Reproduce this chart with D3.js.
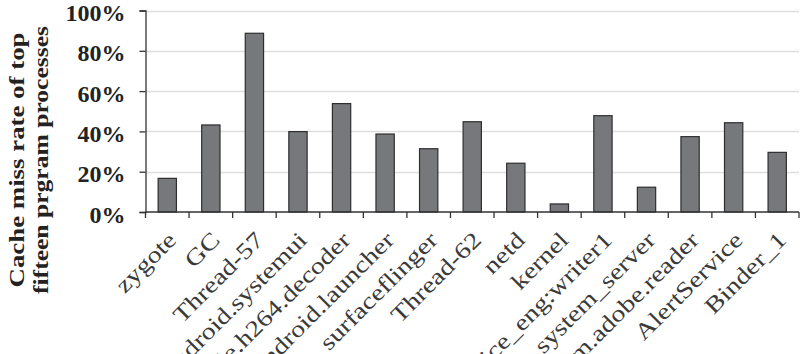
<!DOCTYPE html>
<html>
<head>
<meta charset="utf-8">
<script src="https://cdn.jsdelivr.net/npm/d3@7"></script>
<style>
  body { margin: 0; background: #fff; }
  svg { display: block; }
</style>
</head>
<body>
<svg width="808" height="354"></svg>
<script>
// process names along the x axis
const processes = ["zygote", "GC", "Thread-57", "ndroid.systemui", "le.h264.decoder",
    "ndroid.launcher", "surfaceflinger", "Thread-62", "netd", "kernel",
    "ice_eng:writer1", "system_server", "om.adobe.reader", "AlertService", "Binder_1"];
// cache miss rate (fraction)
const missRate = [0.167, 0.432, 0.887, 0.399, 0.538, 0.387, 0.314, 0.448, 0.242, 0.04,
    0.478, 0.123, 0.374, 0.443, 0.296];
const yTicks = [0, 0.2, 0.4, 0.6, 0.8, 1.0];
const titleLines = ["Cache miss rate of top", "fifteen prgram processes"];

const margin = {top: 10.5, left: 145.5, right: 9, bottom: 142};
const W = 808, H = 354;

const svg = d3.select("svg");

const x = d3.scaleBand()
    .domain(processes)
    .range([margin.left, W - margin.right])
    .paddingInner(0.58)
    .paddingOuter(0.29);

const y = d3.scaleLinear()
    .domain([0, 1])
    .range([H - margin.bottom, margin.top]);

// grid lines
svg.append("g")
    .selectAll("line")
    .data(yTicks.slice(1))
    .enter()
    .append("line")
    .attr("x1", margin.left)
    .attr("x2", W - margin.right)
    .attr("y1", d => Math.round(y(d)) + 0.5)
    .attr("y2", d => Math.round(y(d)) + 0.5)
    .attr("stroke", "#dedede")
    .attr("stroke-width", 1.5);

// bars
svg.append("g")
    .selectAll("rect")
    .data(processes)
    .enter()
    .append("rect")
    .attr("x", d => x(d))
    .attr("y", (d, i) => y(missRate[i]))
    .attr("width", x.bandwidth())
    .attr("height", (d, i) => y(0) - y(missRate[i]))
    .attr("fill", "#76787b")
    .attr("stroke", "#2e2e2e")
    .attr("stroke-width", 1.2);

// y axis
const yAxis = d3.axisLeft(y)
    .tickValues(yTicks)
    .tickFormat(d3.format(".0%"))
    .tickSize(6)
    .tickPadding(14);

const yAxisGroup = svg.append("g")
    .attr("transform", `translate(${margin.left}, 0)`)
    .call(yAxis);
yAxisGroup.select(".domain").attr("stroke", "#333").attr("stroke-width", 1.3);
yAxisGroup.selectAll(".tick line").attr("stroke", "#333").attr("stroke-width", 1.3);
yAxisGroup.selectAll("text")
    .attr("font-family", "Liberation Serif, serif")
    .attr("font-weight", "bold")
    .attr("font-size", 24)
    .attr("dy", "0.42em")
    .attr("fill", "#222");

// x axis: line plus ticks between categories
const xAxisGroup = svg.append("g");
xAxisGroup.append("line")
    .attr("x1", margin.left)
    .attr("x2", W - margin.right)
    .attr("y1", y(0))
    .attr("y2", y(0))
    .attr("stroke", "#333")
    .attr("stroke-width", 1.3);
const edges = d3.range(processes.length + 1).map(i => margin.left + i * x.step());
xAxisGroup.selectAll("line.tk")
    .data(edges)
    .enter()
    .append("line")
    .attr("class", "tk")
    .attr("x1", d => d)
    .attr("x2", d => d)
    .attr("y1", y(0))
    .attr("y2", y(0) + 6)
    .attr("stroke", "#333")
    .attr("stroke-width", 1.3);

// rotated category labels
xAxisGroup.selectAll("text")
    .data(processes)
    .enter()
    .append("text")
    .attr("transform", d => `translate(${x(d) + x.bandwidth() / 2 - 1}, ${y(0) + 18}) rotate(-45) scale(1.22, 1)`)
    .attr("text-anchor", "end")
    .attr("dy", "0.7em")
    .attr("font-family", "Liberation Serif, serif")
    .attr("font-size", 23)
    .attr("fill", "#3a3a3a")
    .text(d => d);

// y title
const titleLen = [255, 268];
svg.append("text")
    .attr("transform", `translate(30, 160) rotate(-90)`)
    .attr("text-anchor", "middle")
    .attr("font-family", "Liberation Serif, serif")
    .attr("font-weight", "bold")
    .attr("font-size", 22)
    .attr("fill", "#222")
    .selectAll("tspan")
    .data(titleLines)
    .enter()
    .append("tspan")
    .attr("x", 0)
    .attr("y", (d, i) => i * 24 - 6)
    .attr("textLength", (d, i) => titleLen[i])
    .attr("lengthAdjust", "spacingAndGlyphs")
    .text(d => d);
</script>
</body>
</html>
